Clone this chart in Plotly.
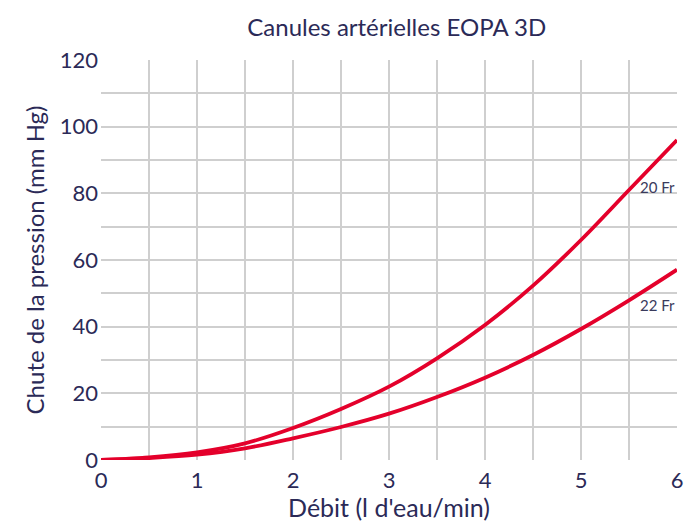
import plotly.graph_objects as go

# Flow (l/min) and pressure drop (mm Hg)
debit = [0, 0.5, 1, 1.5, 2, 2.5, 3, 3.5, 4, 4.5, 5, 5.5, 6]
chute_20fr = [0, 0.8, 2.3, 5.0, 9.6, 15.3, 22.0, 30.5, 40.5, 52.3, 66.0, 81.0, 96.0]
chute_22fr = [0, 0.6, 1.6, 3.5, 6.5, 9.9, 13.9, 18.9, 24.7, 31.5, 39.3, 47.9, 57.1]

x_labels = [0, 1, 2, 3, 4, 5, 6]
x_grid = [0.5, 1, 1.5, 2, 2.5, 3, 3.5, 4, 4.5, 5, 5.5]
y_labels = [0, 20, 40, 60, 80, 100, 120]
y_grid = [0, 10, 20, 30, 40, 50, 60, 70, 80, 90, 100, 110]

red = '#e4002b'
navy = '#2b2a57'
grid = '#cfcfcf'

fig = go.Figure()
fig.add_trace(go.Scatter(x=debit, y=chute_20fr, mode='lines', name='20 Fr',
                         line=dict(color=red, width=3.8, shape='spline')))
fig.add_trace(go.Scatter(x=debit, y=chute_22fr, mode='lines', name='22 Fr',
                         line=dict(color=red, width=3.8, shape='spline')))

# curve labels at the right end
fig.add_annotation(x=6, y=82, text='20 Fr', showarrow=False, xanchor='right',
                   font=dict(size=15, color='#3a3a5c'))
fig.add_annotation(x=6, y=46.5, text='22 Fr', showarrow=False, xanchor='right',
                   font=dict(size=15, color='#3a3a5c'))

fig.update_layout(
    width=684, height=522,
    margin=dict(l=101, r=7, t=60, b=62),
    plot_bgcolor='white',
    paper_bgcolor='white',
    showlegend=False,
    font=dict(family='Lato', color=navy),
    title=dict(text='Canules artérielles EOPA 3D', xref='container', x=0.58,
               xanchor='center', y=0.948, yanchor='middle',
               font=dict(size=24, color=navy)),
    xaxis=dict(
        range=[0, 6], tickvals=x_labels, showgrid=False, zeroline=False,
        showline=False, ticks='', tickfont=dict(size=22, color=navy),
        automargin=False, ticklabelstandoff=5,
        title=dict(text="Débit (l d'eau/min)", font=dict(size=25, color=navy), standoff=4),
        minor=dict(tickvals=x_grid, showgrid=True, gridcolor=grid, gridwidth=1.5, ticks=''),
    ),
    yaxis=dict(
        range=[0, 120], tickvals=y_labels, showgrid=False, zeroline=False,
        showline=False, ticks='', tickfont=dict(size=22, color=navy),
        automargin=False, ticklabelstandoff=2,
        title=dict(text='Chute de la pression (mm Hg)', font=dict(size=24, color=navy), standoff=8),
        minor=dict(tickvals=y_grid, showgrid=True, gridcolor=grid, gridwidth=1.5, ticks=''),
    ),
)

# drop the default page margin so the figure sits at the window's corner
fig.write_html('out.html', config={'displayModeBar': False},
               post_script="document.body.style.margin='0';")
